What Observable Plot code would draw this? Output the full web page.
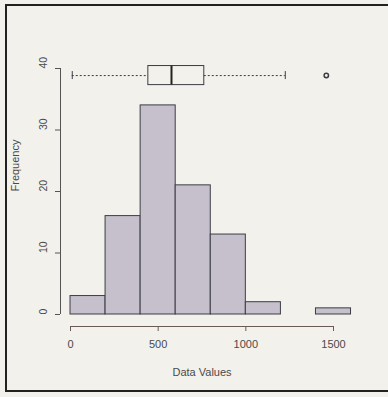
<!DOCTYPE html>
<html>
<head>
<meta charset="utf-8">
<script src="https://cdn.jsdelivr.net/npm/d3@7"></script>
<script src="https://cdn.jsdelivr.net/npm/@observablehq/plot@0.6"></script>
<style>
  html, body { margin: 0; padding: 0; background: #f3f1eb; }
  #wrap { position: relative; width: 388px; height: 397px; overflow: hidden; }
  #frame { position: absolute; left: 5px; top: 4px; width: 383px; height: 388px;
           border-left: 2px solid #222; border-top: 2px solid #222; border-bottom: 2px solid #222; box-sizing: border-box; }
  #chart { position: absolute; left: 0; top: 0; }
</style>
</head>
<body>
<div id="wrap"><div id="frame"></div><div id="chart"></div></div>
<script>
// Histogram data
const binEdges = [0, 200, 400, 600, 800, 1000, 1200, 1400, 1600];
const counts = [3, 16, 34, 21, 13, 2, 0, 1];
// Boxplot summary
const boxLow = 10, boxQ1 = 444, boxMedian = 576, boxQ3 = 763, boxHigh = 1225;
const outliers = [1459];
// Ticks
const xTicks = [0, 500, 1000, 1500];
const yTicks = [0, 10, 20, 30, 40];
// Box vertical placement (in frequency units)
const boxYLo = 37.3, boxYHi = 40.4, boxYMid = 38.85, capLo = 38.2, capHi = 39.5;

const bins = counts.map((c, i) => ({x1: binEdges[i], x2: binEdges[i + 1], y: c}));
const ink = "#3c3c46";
const txt = "#4a4a4a";

const chart = Plot.plot({
  width: 388, height: 397,
  marginLeft: 70, marginRight: 55, marginTop: 68, marginBottom: 83,
  style: {background: "transparent", fontFamily: "Liberation Sans, Arial, sans-serif", fontSize: "11px", color: txt},
  x: {domain: [xTicks[0], xTicks[xTicks.length - 1]], axis: null},
  y: {domain: [yTicks[0], yTicks[yTicks.length - 1]], axis: null},
  marks: [
    Plot.rectY(bins, {x1: "x1", x2: "x2", y: "y", fill: "#c6c0cc", stroke: ink, strokeWidth: 1}),
    // boxplot
    Plot.ruleY([boxYMid], {x1: boxLow, x2: boxQ1, stroke: ink, strokeDasharray: "2,2"}),
    Plot.ruleY([boxYMid], {x1: boxQ3, x2: boxHigh, stroke: ink, strokeDasharray: "2,2"}),
    Plot.ruleX([boxLow, boxHigh], {y1: capLo, y2: capHi, stroke: ink}),
    Plot.rect([0], {x1: boxQ1, x2: boxQ3, y1: boxYLo, y2: boxYHi, fill: "none", stroke: ink}),
    Plot.ruleX([boxMedian], {y1: boxYLo, y2: boxYHi, stroke: "#222", strokeWidth: 2}),
    Plot.dot(outliers, {x: d => d, y: boxYMid, r: 2.2, stroke: ink, fill: "none"}),
    // x axis
    Plot.ruleY([0], {x1: xTicks[0], x2: xTicks[xTicks.length - 1], dy: 12, stroke: "#6a5a55"}),
    Plot.axisX({ticks: xTicks, tickSize: 5, dy: 12, tickPadding: 9, label: null, tickFormat: d => String(d), stroke: "#6a5a55", fill: txt, fontSize: 11}),
    Plot.text(["Data Values"], {frameAnchor: "bottom", dy: 61, fill: txt, fontSize: 11}),
    // y axis
    Plot.ruleX([0], {y1: yTicks[0], y2: yTicks[yTicks.length - 1], dx: -10, stroke: "#555"}),
    Plot.axisY({ticks: yTicks, tickSize: 5, dx: -10, label: null, tickFormat: () => "", stroke: "#555"}),
    Plot.text(yTicks, {y: d => d, text: d => String(d), frameAnchor: "left", dx: -27, rotate: -90, fill: txt, fontSize: 10.5}),
    Plot.text(["Frequency"], {frameAnchor: "left", dx: -55, rotate: -90, fill: txt, fontSize: 11})
  ]
});
document.getElementById("chart").appendChild(chart);
</script>
</body>
</html>
